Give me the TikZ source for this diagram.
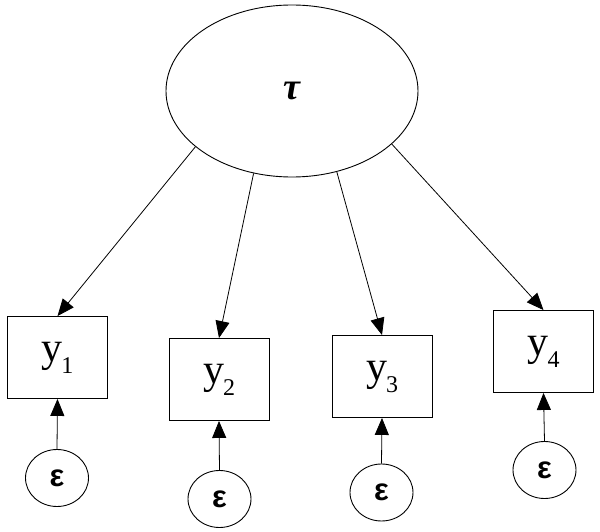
\documentclass[tikz,border=0pt]{standalone}
\usepackage{fontspec}
\setmainfont{Liberation Serif}
\newfontfamily\epsfont{Liberation Sans}
\usetikzlibrary{shapes.geometric,arrows.meta}
\newcommand\yvar[1]{{\fontsize{42}{42}\selectfont y}\kern-1pt\raisebox{-12pt}{\fontsize{24}{24}\selectfont #1}}
\tikzset{
  latent/.style={draw,ellipse,line width=0.9pt,inner sep=0pt,minimum width=252pt,minimum height=172pt},
  obs/.style={draw,rectangle,line width=0.9pt,inner sep=0pt,minimum width=100pt,minimum height=82pt},
  err/.style={draw,ellipse,line width=0.9pt,inner sep=0pt,minimum width=63pt,minimum height=57pt},
  conn/.style={line width=0.8pt,-{Triangle[length=17pt,width=14pt]}},
  epslabel/.style={font=\fontsize{31}{31}\selectfont\epsfont\bfseries}
}
\begin{document}
\begin{tikzpicture}[x=1pt,y=-1pt]
\useasboundingbox (0,0) rectangle (600,532);
\node[latent] (tau) at (292,91) {\fontsize{38}{38}\selectfont\bfseries\itshape τ};
\node[obs] (y1) at (57.5,357.5) {\yvar{1}};
\node[obs] (y2) at (219,379.5) {\yvar{2}};
\node[obs] (y3) at (382,376.5) {\yvar{3}};
\node[obs] (y4) at (543.5,351.5) {\yvar{4}};
\node[err,epslabel] (e1) at (57,478) {ε};
\node[err,epslabel] (e2) at (219.5,499) {ε};
\node[err,epslabel] (e3) at (381.5,492.5) {ε};
\node[err,epslabel] (e4) at (544.5,470) {ε};
\draw[conn] (tau.210) -- (y1.north);
\draw[conn] (tau.245) -- (y2.north);
\draw[conn] (tau.299) -- (y3.north);
\draw[conn] (tau.332) -- (y4.north);
\draw[conn] (e1.north) -- (y1.south);
\draw[conn] (e2.north) -- (y2.south);
\draw[conn] (e3.north) -- (y3.south);
\draw[conn] (e4.north) -- (y4.south);
\end{tikzpicture}
\end{document}
